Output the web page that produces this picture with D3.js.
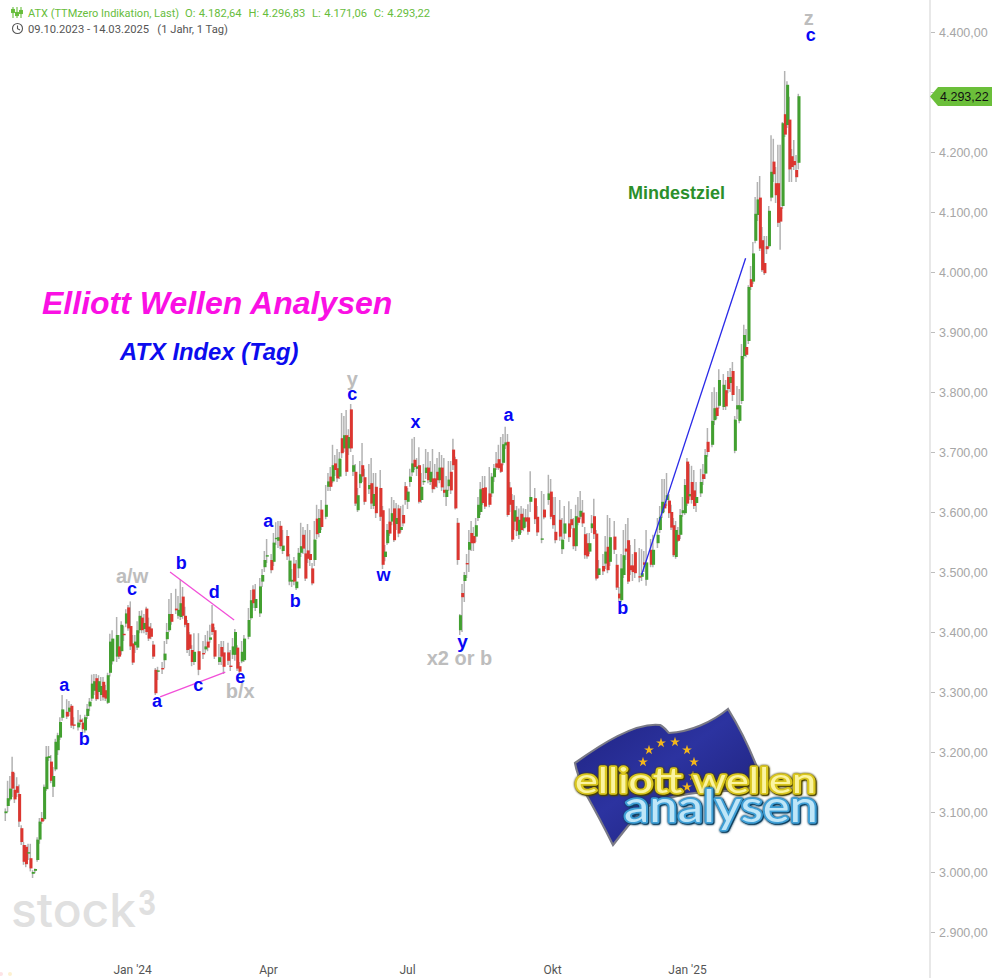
<!DOCTYPE html>
<html><head><meta charset="utf-8">
<script src="https://cdn.jsdelivr.net/npm/d3@7/dist/d3.min.js"></script>
<style>html,body{margin:0;padding:0;background:#fff;overflow:hidden}svg{display:block}text{font-family:"Liberation Sans",Arial,sans-serif}</style>
</head><body><svg id="c" width="994" height="978"></svg>
<script>
const sessions=[0,1,2,3,4,5,6,7,8,9,10,11,12,13,14,15,16,17,18,19,20,21,22,23,24,25,27,28,29,30,
32,33,34,35,36,37,38,39,40,41,42,43,44,45,46,47,49,50,51,52,53,54,55,56,57,58,59,60,61,62,
63,64,65,66,67,69,70,71,72,73,75,76,77,78,79,80,81,82,83,85,87,88,89,90,91,92,94,95,96,98,
99,100,101,102,103,104,105,107,108,109,110,112,113,114,115,117,118,119,120,121,
122,124,125,126,127,128,129,130,131,132,133,134,135,136,137,138,139,141,142,143,
144,145,146,147,148,149,150,151,152,153,154,155,156,157,158,160,161,162,163,165,
166,167,168,169,170,171,172,173,174,175,176,177,178,179,180,181,182,183,184,185,186,
187,188,189,190,191,192,193,194,195,196,197,198,199,200,201,202,203,204,205,206,
207,208,209,210,211,213,214,215,216,217,218,219,220,221,222,223,224,225,226,227,
228,229,230,231,233,234,236,237,239,240,241,242,244,245,246,248,249,250,251,252,
253,254,255,256,257,258,259,260,261,263,264,265,266,268,269,270,271,272,273,274,
275,276,277,279,280,281,282,284,285,287,288,289,290,291,292,293,294,295,296,297,
298,299,300,301,302,303,304,306,307,308,309,311,312,313,314,316,317,318,319,320,
321,322,323,324,325,326,327,328,329,330,331,332,333,334,335,336,337,338,339,340,
341,342,343,344,345,346,347,348,349];
const opens=[3098,3110,3121,3167,3137,3143,3130,3073,3045,3042,3031,3023,2997,3002,3020,3054,3090,3088,3138,3190,3184,3142,3171,3203,3224,3257,3267,3267,3277,3246,
3241,3254,3249,3236,3260,3276,3289,3302,3323,3300,3295,3317,3303,3282,3332,3351,3359,3376,3368,3397,3414,3441,3410,3381,3378,3374,3403,3424,3405,3439,
3409,3406,3379,3337,3334,3340,3353,3388,3403,3430,3439,3427,3425,3459,3427,3415,3396,3370,3350,3368,3365,3371,3384,3387,3414,3403,3350,3375,3366,3366,
3344,3362,3362,3374,3343,3351,3353,3392,3423,3471,3440,3431,3484,3508,3526,3520,3517,3555,3552,3577,
3535,3560,3484,3484,3514,3473,3506,3532,3562,3531,3536,3530,3506,3520,3589,3565,3604,3592,3642,3659,
3651,3681,3673,3659,3723,3706,3728,3706,3771,3667,3667,3603,3648,3678,3658,3638,3648,3610,3642,3640,
3603,3525,3548,3584,3584,3606,3580,3606,3570,3595,3643,3617,3650,3666,3687,3672,3678,3620,3650,3665,3674,
3650,3656,3656,3667,3653,3674,3637,3625,3643,3667,3704,3688,3582,3403,3465,3485,3515,3537,3565,3560,
3559,3590,3600,3640,3641,3631,3631,3658,3681,3688,3681,3682,3711,3717,3641,3620,3584,3592,3562,3597,
3573,3591,3591,3617,3623,3592,3555,3604,3620,3634,3595,3567,3587,3538,3564,3581,3588,3573,3543,3591,
3592,3599,3563,3548,3534,3573,3593,3564,3495,3510,3514,3542,3517,3559,3512,3464,3453,3495,3539,3553,
3511,3511,3533,3493,3492,3516,3487,3537,3512,3548,3570,3598,3614,3620,3619,3600,3578,3525,3562,3562,
3598,3598,3684,3626,3650,3636,3615,3631,3663,3664,3717,3712,3753,3774,3777,3775,3803,3825,3815,3835,
3702,3771,3752,3785,3860,3875,3885,3988,3984,4052,4095,4124,4053,4015,4043,4043,4124,4184,4148,4148,
4108,4110,4263,4245,4254,4193,4185,4170,4182];
const highs=[3106,3152,3160,3192,3165,3158,3146,3078,3050,3045,3047,3047,3003,3006,3058,3090,3100,3146,3210,3210,3195,3175,3222,3232,3258,3295,3288,3285,3280,3258,
3270,3262,3256,3262,3280,3290,3329,3330,3330,3328,3325,3325,3312,3332,3397,3403,3425,3395,3418,3410,3438,3445,3451,3395,3395,3418,3435,3436,3430,3442,
3424,3415,3385,3340,3342,3350,3385,3415,3455,3465,3472,3460,3488,3475,3442,3420,3400,3378,3398,3398,3385,3395,3402,3412,3445,3408,3380,3385,3385,3382,
3370,3390,3405,3378,3350,3385,3395,3440,3470,3478,3480,3490,3505,3535,3555,3530,3565,3583,3585,3585,
3570,3570,3530,3505,3525,3520,3540,3582,3575,3570,3580,3570,3515,3585,3612,3605,3620,3645,3665,3675,
3712,3695,3705,3700,3765,3760,3770,3738,3780,3695,3680,3640,3685,3715,3672,3680,3690,3665,3665,3670,
3610,3545,3580,3606,3625,3620,3615,3612,3610,3612,3650,3640,3672,3722,3725,3690,3708,3665,3680,3705,3700,
3685,3705,3680,3690,3700,3695,3690,3660,3685,3685,3722,3692,3590,3430,3480,3500,3530,3570,3585,3575,
3590,3625,3650,3660,3660,3675,3665,3680,3700,3712,3725,3730,3742,3730,3650,3630,3628,3610,3606,3610,
3606,3605,3613,3668,3640,3610,3635,3630,3662,3655,3625,3625,3620,3590,3610,3618,3605,3590,3612,3625,
3635,3620,3575,3565,3565,3595,3622,3570,3520,3530,3560,3595,3590,3585,3530,3475,3530,3570,3580,3590,
3545,3530,3555,3540,3538,3535,3570,3555,3562,3590,3610,3655,3655,3665,3630,3612,3590,3585,3575,3605,
3625,3655,3690,3680,3677,3670,3650,3672,3680,3705,3740,3800,3808,3800,3838,3830,3820,3835,3840,3850,
3760,3810,3805,3880,3912,3905,3978,4010,4050,4125,4150,4160,4075,4060,4060,4110,4228,4222,4175,4212,
4212,4250,4335,4318,4292,4205,4220,4195,4297];
const lows=[3085,3100,3118,3125,3115,3125,3075,3045,3012,3008,3020,3001,2990,2998,3017,3047,3080,3085,3135,3185,3148,3125,3168,3195,3220,3252,3255,3260,3240,3238,
3236,3245,3232,3232,3255,3268,3285,3295,3285,3288,3285,3286,3285,3280,3326,3346,3350,3355,3362,3385,3408,3402,3370,3345,3365,3370,3398,3398,3398,3395,
3385,3388,3355,3295,3320,3330,3340,3380,3400,3412,3430,3422,3420,3422,3408,3365,3360,3343,3345,3328,3355,3365,3368,3382,3395,3355,3345,3345,3330,3345,
3335,3355,3352,3335,3328,3348,3350,3388,3420,3440,3435,3425,3475,3500,3515,3498,3510,3545,3540,3538,
3530,3520,3478,3475,3478,3470,3490,3525,3530,3485,3515,3510,3478,3510,3555,3558,3570,3588,3635,3635,
3648,3660,3650,3655,3690,3700,3660,3695,3700,3660,3610,3600,3640,3650,3612,3630,3605,3605,3590,3585,
3505,3518,3545,3560,3578,3550,3570,3558,3566,3576,3612,3605,3642,3660,3670,3660,3614,3615,3645,3655,3648,
3645,3632,3638,3640,3648,3635,3625,3610,3635,3630,3670,3604,3512,3395,3400,3450,3490,3500,3535,3535,
3550,3585,3595,3612,3605,3608,3625,3650,3670,3670,3665,3678,3705,3592,3600,3550,3570,3560,3555,3565,
3568,3575,3562,3600,3580,3560,3548,3588,3612,3588,3572,3548,3552,3530,3555,3550,3572,3538,3535,3578,
3588,3575,3522,3522,3530,3565,3555,3486,3490,3495,3505,3498,3510,3530,3470,3450,3450,3490,3520,3480,
3495,3485,3490,3483,3485,3500,3477,3508,3508,3540,3565,3590,3600,3610,3590,3570,3525,3522,3550,3555,
3592,3595,3610,3620,3614,3605,3600,3625,3645,3655,3692,3708,3745,3755,3772,3770,3770,3798,3800,3785,
3698,3755,3748,3780,3855,3858,3880,3970,3980,4048,4085,4035,4000,3995,4030,4040,4118,4150,4115,4075,
4037,4105,4225,4240,4150,4150,4170,4150,4171];
const closes=[3101,3123,3139,3139,3121,3132,3084,3050,3017,3013,3033,3006,3000,3005,3054,3084,3084,3142,3192,3193,3152,3160,3217,3228,3250,3271,3259,3274,3244,3245,
3249,3250,3238,3258,3272,3284,3314,3318,3288,3318,3310,3291,3289,3328,3384,3389,3395,3359,3412,3396,3431,3406,3376,3349,3384,3403,3427,3403,3415,3400,
3389,3392,3359,3298,3336,3339,3364,3400,3430,3417,3436,3437,3448,3427,3412,3370,3372,3350,3367,3337,3364,3376,3374,3391,3400,3359,3358,3359,3342,3352,
3343,3376,3400,3339,3334,3367,3389,3420,3453,3448,3455,3476,3495,3520,3528,3503,3549,3557,3558,3543,
3544,3526,3519,3487,3484,3484,3532,3543,3539,3489,3522,3520,3481,3554,3563,3590,3575,3612,3651,3642,
3678,3670,3656,3689,3698,3728,3667,3725,3706,3678,3614,3628,3663,3659,3617,3645,3614,3630,3598,3592,
3512,3534,3570,3564,3598,3553,3590,3564,3575,3581,3620,3634,3659,3681,3675,3676,3617,3642,3652,3674,3653,
3667,3638,3642,3653,3674,3641,3632,3637,3654,3636,3678,3606,3520,3428,3458,3495,3514,3550,3548,3548,
3578,3612,3638,3615,3609,3612,3659,3673,3674,3673,3667,3713,3716,3595,3612,3554,3603,3568,3587,3570,
3591,3584,3567,3625,3588,3566,3556,3591,3631,3592,3578,3553,3559,3554,3581,3558,3578,3543,3593,3582,
3602,3581,3528,3526,3548,3581,3563,3489,3506,3501,3534,3503,3558,3537,3474,3456,3506,3528,3534,3484,
3503,3500,3498,3492,3498,3512,3516,3512,3537,3562,3592,3617,3606,3628,3598,3574,3528,3570,3552,3595,
3603,3645,3614,3630,3620,3610,3625,3650,3655,3695,3700,3752,3773,3760,3820,3812,3776,3805,3825,3795,
3754,3778,3778,3860,3895,3862,3975,3975,4031,4097,4121,4039,4003,3998,4038,4102,4167,4163,4128,4082,
4084,4248,4229,4312,4171,4175,4178,4158,4293];

const yTickValues=[2900,3000,3100,3200,3300,3400,3500,3600,3700,3800,3900,4000,4100,4200,4300,4400];
const hiddenTick=4300;
const monthSessions=[55.5,115.3,176.5,240.3,299.7];
const monthLabels=["Jan '24","Apr","Jul","Okt","Jan '25"];
const lastPrice=4293.22;
const headerLine1="ATX (TTMzero Indikation, Last)";
const headerOHLC="O: 4.182,64  H: 4.296,83  L: 4.171,06  C: 4.293,22";
const headerLine2="09.10.2023 - 14.03.2025   (1 Jahr, 1 Tag)";

// wave labels: text, session, price, grey?, size
const waveLabels=[["a",25.6,3313,0,18],["b",34.4,3222,0,18],["a",115.4,3585,0,18],["b",127.3,3453,0,18],
["a/w",55.5,3494,1,20],["c",55.5,3472,0,18],["b",77.1,3515,0,18],["d",91.6,3468,0,18],["c",84.6,3313,0,18],
["a",66.5,3285,0,18],["e",103.1,3325,0,18],["b/x",103.1,3301,1,20],["y",152.4,3822,1,20],["c",152.4,3797,0,18],
["w",166.1,3495,0,18],["x",180.2,3750,0,18],["y",200.9,3385,0,19],["x2 or b",199.6,3357,1,20],["a",221.1,3763,0,18],
["b",271.4,3440,0,18],["z",353.3,4424,1,20],["c",354.2,4395,0,18]];
const trendLines=[[72.2,3500,100.4,3420,"#f24fd8"],[67.8,3292,96.5,3333,"#f24fd8"],[279.7,3495,325.5,4023,"#2a2ae8"]];

const svg=d3.select("#c");
const x=d3.scaleLinear().domain([0,349]).range([6,799]);
const y=d3.scaleLinear().domain([2900,4400]).range([932,32]);
const deFmt=d3.formatLocale({decimal:",",thousands:".",grouping:[3],currency:["","€"]}).format(",.2f");
const candles=sessions.map((s,i)=>({s,o:opens[i],h:highs[i],l:lows[i],c:closes[i]}));

// y axis
svg.append("line").attr("x1",930).attr("x2",930).attr("y1",0).attr("y2",978).attr("stroke","#e8e8e8").attr("stroke-width",2);
const ax=svg.append("g").attr("transform","translate(931,0)").call(d3.axisRight(y).tickValues(yTickValues).tickFormat(d=>d===hiddenTick?"":deFmt(d)).tickSize(4).tickPadding(4));
ax.select(".domain").remove();
ax.selectAll("line").attr("stroke","#bdbdbd");
ax.selectAll("text").attr("fill","#a6a6a6").attr("font-size",12.5).attr("dy","0.37em").style("font-family","Liberation Sans");

// x axis
const bx=svg.append("g").attr("transform","translate(0,957)").call(d3.axisBottom(x).tickValues(monthSessions).tickFormat((d,i)=>monthLabels[i]).tickSize(0).tickPadding(8));
bx.select(".domain").remove();
bx.selectAll("text").attr("fill","#555").attr("font-size",12).style("font-family","Roboto");

// watermark
const wm=svg.append("g").attr("fill","#e0e0e0");
wm.append("text").attr("x",11).attr("y",927).attr("font-size",47).attr("font-weight",500).style("font-family","Inter").attr("textLength",125).attr("lengthAdjust","spacingAndGlyphs").text("stock");
wm.append("text").attr("x",138).attr("y",915).attr("font-size",34).attr("font-weight",700).style("font-family","Inter").attr("textLength",18).attr("lengthAdjust","spacingAndGlyphs").text("3");
svg.append("circle").attr("cx",1).attr("cy",974).attr("r",2).attr("fill","#fde3e6");
svg.append("circle").attr("cx",10).attr("cy",974).attr("r",2).attr("fill","#fdf1d0");

// header
const g1="#67bd3c";
const ic=svg.append("g").attr("stroke",g1).attr("fill","none").attr("stroke-width",1.1);
[[13,7,18],[17,7,18],[21,7,18]].forEach(([a,b,c])=>ic.append("line").attr("x1",a).attr("x2",a).attr("y1",b).attr("y2",c));
[[13,11],[17,14],[21,12]].forEach(([a,b])=>ic.append("rect").attr("x",a-1.4).attr("y",b-1.5).attr("width",2.8).attr("height",3).attr("fill",g1));
svg.append("text").attr("x",28).attr("y",16.5).attr("fill",g1).attr("font-size",11).style("font-family","Roboto").text(headerLine1);
svg.append("text").attr("x",185).attr("y",16.5).attr("fill",g1).attr("font-size",11.2).style("font-family","Roboto").style("white-space","pre").style("word-spacing","0.6px").text(headerOHLC);
const ck=svg.append("g").attr("stroke","#555").attr("fill","none").attr("stroke-width",1.1);
ck.append("circle").attr("cx",17.5).attr("cy",28.5).attr("r",5);
ck.append("path").attr("d","M17.5 25.5V28.7L20 30");
svg.append("text").attr("x",28).attr("y",33).attr("fill","#555").attr("font-size",11.2).style("font-family","Roboto").style("white-space","pre").text(headerLine2);

// price badge
const py=y(lastPrice);
svg.append("path").attr("d",`M930 ${py+0.5}l8 -9.5h54v19h-54z`).attr("fill","#6bbf3a");
svg.append("text").attr("x",940).attr("y",py+0.5).attr("dy","0.36em").attr("font-size",12.5).attr("fill","#111").text(deFmt(lastPrice));

// candles
const cg=svg.append("g").style("filter","blur(0.35px)");
cg.selectAll("line.w").data(candles).join("line").attr("class","w")
 .attr("x1",d=>x(d.s)-0.7).attr("x2",d=>x(d.s)-0.7).attr("y1",d=>y(d.h)).attr("y2",d=>y(d.l))
 .attr("stroke","#b2b2b2").attr("stroke-width",1.5);
cg.selectAll("rect").data(candles).join("rect")
 .attr("x",d=>x(d.s)-1.5).attr("width",3)
 .attr("y",d=>y(Math.max(d.o,d.c))).attr("height",d=>Math.max(1.4,Math.abs(y(d.o)-y(d.c))))
 .attr("fill",d=>d.c>=d.o?"#42a030":"#dc3630");

// trend lines
svg.selectAll("line.t").data(trendLines).join("line").attr("class","t")
 .attr("x1",d=>x(d[0])).attr("y1",d=>y(d[1])).attr("x2",d=>x(d[2])).attr("y2",d=>y(d[3]))
 .attr("stroke",d=>d[4]).attr("stroke-width",1.3);

// wave labels
svg.selectAll("text.wl").data(waveLabels).join("text").attr("class","wl")
 .attr("x",d=>x(d[1])).attr("y",d=>y(d[2])).attr("dy","0.35em").attr("text-anchor","middle")
 .attr("font-weight",700).attr("font-size",d=>d[4]).attr("fill",d=>d[3]?"#bdbdbd":"#0808f5").text(d=>d[0]);

// titles
svg.append("text").attr("x",42).attr("y",314).attr("font-size",32).attr("font-weight",700).attr("font-style","italic").attr("fill","#fa10e4").text("Elliott Wellen Analysen");
svg.append("text").attr("x",120).attr("y",360).attr("font-size",23.8).attr("font-weight",700).attr("font-style","italic").attr("fill","#0c0cee").text("ATX Index (Tag)");
svg.append("text").attr("x",628).attr("y",199).attr("font-size",18).attr("font-weight",700).attr("fill","#2b8f2b").text("Mindestziel");

// logo
const defs=svg.append("defs");
const lg=defs.append("linearGradient").attr("id","fl").attr("x1",0).attr("y1",0).attr("x2",1).attr("y2",1);
lg.append("stop").attr("offset",0).attr("stop-color","#1f2280");
lg.append("stop").attr("offset",.45).attr("stop-color","#2c33a0");
lg.append("stop").attr("offset",1).attr("stop-color","#1b1d72");
const logo=svg.append("g");
logo.append("path").attr("d","M575 763C600 745 635 722 660 725C664 727 667 731 669 733C690 732 712 722 728 709C738 725 750 748 760 775L745 790C720 792 680 790 650 805C635 815 625 830 613 845C603 825 595 810 587 796C582 785 577 775 575 763Z")
 .attr("fill","url(#fl)").attr("stroke","#7a7a86").attr("stroke-width",2.2);
const starPts=[[661,743],[675,742],[649,750],[687,750],[643,762],[694,762],[687,787],[693,776]];
const star=d3.symbol().type(d3.symbolStar).size(30);
logo.selectAll("path.s").data(starPts).join("path").attr("class","s").attr("d",star).attr("transform",d=>`translate(${d[0]},${d[1]})`).attr("fill","#f2b51c");
function logoWord(t,px,py,fs,len,shadow,edge,core){
  logo.append("text").attr("x",px).attr("y",py).attr("font-size",fs).style("font-family","Lato").attr("textLength",len).attr("lengthAdjust","spacingAndGlyphs")
    .attr("fill",core).attr("stroke",edge).attr("stroke-width",3.6).attr("stroke-linejoin","round").attr("paint-order","stroke")
    .style("filter",`drop-shadow(0 0 0.8px ${shadow}) drop-shadow(1px 1px 0.6px ${shadow})`).text(t);
}
logoWord("elliott wellen",575,793,34,241,"#4a4200","#d9c61e","#fbf4a0");
logoWord("analysen",624,822,44,194,"#10405f","#3f9fd6","#bfe6f8");
</script></body></html>
